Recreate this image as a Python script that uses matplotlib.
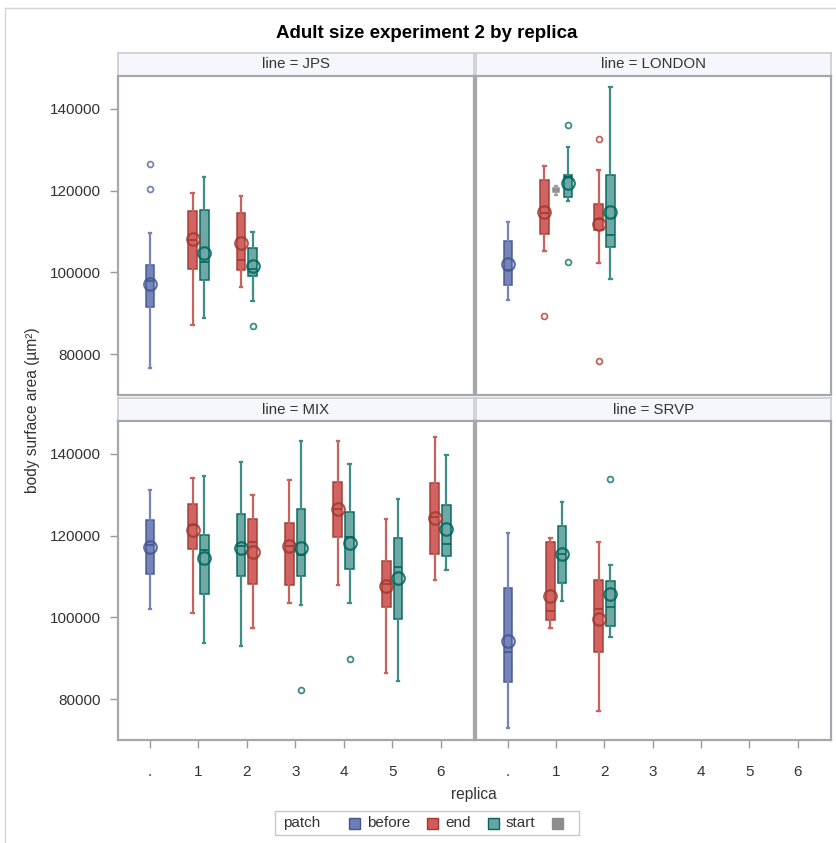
import matplotlib
matplotlib.use("Agg")
import matplotlib.pyplot as plt
from matplotlib.lines import Line2D
from matplotlib.patches import Rectangle
import numpy as np

plt.rcParams['font.family'] = ['Liberation Sans', 'DejaVu Sans']

# ---------------- data ----------------
panel_lines = ['JPS', 'LONDON', 'MIX', 'SRVP']
replica_labels = ['.', '1', '2', '3', '4', '5', '6']
patch_names = ['before', 'end', 'start', '']
legend_title = 'patch'

box_line = ['JPS', 'JPS', 'JPS', 'JPS', 'JPS',
            'LONDON', 'LONDON', 'LONDON', 'LONDON', 'LONDON', 'LONDON',
            'MIX', 'MIX', 'MIX', 'MIX', 'MIX', 'MIX', 'MIX', 'MIX', 'MIX', 'MIX', 'MIX', 'MIX', 'MIX',
            'SRVP', 'SRVP', 'SRVP', 'SRVP', 'SRVP']
box_replica = ['.', '1', '1', '2', '2',
               '.', '1', '1', '1', '2', '2',
               '.', '1', '1', '2', '2', '3', '3', '4', '4', '5', '5', '6', '6',
               '.', '1', '1', '2', '2']
box_patch = ['before', 'end', 'start', 'end', 'start',
             'before', 'end', '', 'start', 'end', 'start',
             'before', 'end', 'start', 'start', 'end', 'end', 'start', 'end', 'start', 'end', 'start', 'end', 'start',
             'before', 'end', 'start', 'end', 'start']
whislo = [76600, 87000, 88800, 96400, 92900,
          93300, 105100, 119000, 117400, 102300, 98400,
          102000, 101100, 93600, 92900, 97300, 103400, 102900, 107800, 103500, 86300, 84400, 109100, 111500,
          73000, 97400, 103900, 77200, 95100]
q1 = [91600, 100900, 98000, 100500, 99000,
      96800, 109400, 119600, 118400, 110400, 106100,
      110500, 116700, 105800, 110000, 108100, 107800, 110100, 119600, 111900, 102600, 99700, 115400, 115000,
      84200, 99300, 108300, 91400, 97900]
median = [97800, 108000, 102500, 103100, 100800,
          100600, 114500, 120100, 123300, 113100, 109100,
          117600, 122500, 116400, 117500, 118500, 117500, 115200, 126500, 119600, 108200, 112300, 124500, 118000,
          91500, 101500, 115400, 102000, 102400]
q3 = [101900, 114900, 115300, 114400, 106000,
      107600, 122500, 120700, 123900, 116800, 123700,
      123900, 127800, 120200, 125300, 124000, 123100, 126600, 133200, 125700, 113700, 119400, 132800, 127400,
      107200, 118400, 122300, 109100, 108800]
whishi = [109700, 119300, 123300, 118600, 109900,
          112200, 126000, 121000, 130700, 124900, 145300,
          131200, 134100, 134500, 138000, 130000, 133500, 143000, 143000, 137400, 124000, 128900, 144100, 139600,
          120700, 119400, 128200, 118500, 112900]
mean = [97100, 108200, 104600, 107100, 101500,
        102000, 114700, np.nan, 121900, 111900, 114700,
        117200, 121300, 114400, 117000, 116000, 117400, 117000, 126500, 118200, 107700, 109600, 124200, 121600,
        94100, 105200, 115400, 99600, 105800]
fliers = [[120300, 126400], [], [], [], [86900],
          [], [89200], [], [102400, 136000], [78400, 132600], [],
          [], [], [], [], [], [], [82300], [], [89900], [], [], [], [],
          [], [], [], [], [133900]]

y_ticks = [80000, 100000, 120000, 140000]

# ---------------- style ----------------
fill_col = {'before': '#6F7EB3', 'end': '#D05B5B', 'start': '#66A5A0', '': '#9C9C9C'}
line_col = {'before': '#445694', 'end': '#A23A2E', 'start': '#01665E', '': '#8A8A8A'}
whisk_col = {'before': '#7884B8', 'end': '#C8625C', 'start': '#3E8E86', '': '#A0A0A0'}
legend_fill = {'before': '#6F7EB3', 'end': '#D05B5B', 'start': '#66A5A0', '': '#8C8C8C'}
legend_edge = {'before': '#445694', 'end': '#A23A2E', 'start': '#01665E', '': '#8C8C8C'}

W, H = 836, 843
fig = plt.figure(figsize=(W / 100, H / 100), dpi=100)


def rect(x0, y0, x1, y1):
    return [x0 / W, 1 - y1 / H, (x1 - x0) / W, (y1 - y0) / H]


frame_col = '#A5A7AC'
tick_col = '#9A9A9A'
text_col = '#333333'

# outer border
fig.add_artist(Line2D([5 / W, 5 / W], [1 - 8 / H, 0], color='#D4D4D4', lw=1))
fig.add_artist(Line2D([5 / W, 1], [1 - 8 / H, 1 - 8 / H], color='#D4D4D4', lw=1))

fig.text(427 / W, 1 - 34 / H, 'Adult size experiment 2 by replica', ha='center', va='center',
         fontsize=13.5, fontweight='bold', color='#000000')

cols_x = [(118, 474), (476, 831)]
rows_y = [((53, 76), (76, 395)), ((398, 421), (421, 740))]

xlim = (-0.66, 6.69)
ylim = (70000, 148000)
spacing = 0.242
bw = 0.18

for pi, ln in enumerate(panel_lines):
    r, c = divmod(pi, 2)
    (sx0, sx1) = cols_x[c]
    (sy, py) = rows_y[r]
    # strip
    sax = fig.add_axes(rect(sx0, sy[0], sx1, sy[1]))
    sax.set_facecolor('#F5F7FD')
    sax.set_xticks([]); sax.set_yticks([])
    for s in sax.spines.values():
        s.set_color('#C9CBD0'); s.set_linewidth(1.2)
    sax.text(0.5, 0.5, f'line = {ln}', ha='center', va='center', fontsize=10.8, color=text_col,
             transform=sax.transAxes)
    ax = fig.add_axes(rect(sx0, py[0], sx1, py[1]))
    ax.set_xlim(*xlim)
    ax.set_ylim(*ylim)
    for s in ax.spines.values():
        s.set_color(frame_col); s.set_linewidth(1.6)
    ax.set_xticks(range(len(replica_labels)))
    ax.set_yticks(y_ticks)
    ax.tick_params(axis='both', colors=tick_col, length=6, width=1, labelcolor=text_col, labelsize=11, pad=6)
    if r == 1:
        ax.set_xticklabels(replica_labels)
        ax.tick_params(axis='x', pad=12)
    else:
        ax.tick_params(axis='x', length=0, labelbottom=False)
    if c == 0:
        ax.set_yticklabels([f'{v:d}' for v in y_ticks])
    else:
        ax.tick_params(axis='y', length=0, labelleft=False)

    idx = [i for i in range(len(box_line)) if box_line[i] == ln]
    for rep_i, rep in enumerate(replica_labels):
        grp = [i for i in idx if box_replica[i] == rep]
        n = len(grp)
        for k, i in enumerate(grp):
            pos = rep_i + (k - (n - 1) / 2) * spacing
            p = box_patch[i]
            st = dict(med=median[i], q1=q1[i], q3=q3[i], whislo=whislo[i], whishi=whishi[i],
                      fliers=fliers[i])
            ax.bxp([st], positions=[pos], widths=bw * (0.7 if p == '' else 1), patch_artist=True,
                   showfliers=True, capwidths=[0.05],
                   boxprops=dict(facecolor=fill_col[p], edgecolor=line_col[p], linewidth=1.1, alpha=0.95),
                   medianprops=dict(color=line_col[p], linewidth=1.2),
                   whiskerprops=dict(color=whisk_col[p], linewidth=1.6),
                   capprops=dict(color=whisk_col[p], linewidth=1.6),
                   flierprops=dict(marker='o', markersize=4.2, markerfacecolor='none',
                                   markeredgecolor=whisk_col[p], markeredgewidth=1.3),
                   manage_ticks=False)
            if not np.isnan(mean[i]):
                ax.plot([pos], [mean[i]], marker='o', markersize=9, markerfacecolor='none',
                        markeredgecolor=line_col[p], markeredgewidth=1.6, alpha=0.85, zorder=5)

fig.text(33 / W, 1 - 410 / H, 'body surface area (µm²)', rotation=90, ha='center', va='center',
         fontsize=11.2, color=text_col)
fig.text(474 / W, 1 - 795 / H, 'replica', ha='center', va='center', fontsize=11.2, color=text_col)

# legend (drawn manually, SAS style with inline title)
fig.add_artist(Rectangle((275 / W, 1 - 835 / H), (579 - 275) / W, (835 - 811) / H,
                         transform=fig.transFigure, facecolor='white', edgecolor='#C8C8C8', lw=1))
ly = 1 - 823 / H
fig.text(283 / W, ly, legend_title, ha='left', va='center', fontsize=11, color=text_col)
sq_x = [349, 427, 488, 552]
for p, sx in zip(patch_names, sq_x):
    fig.add_artist(Rectangle((sx / W, 1 - 828.5 / H), 11 / W, 11 / H, transform=fig.transFigure,
                             facecolor=legend_fill[p], edgecolor=legend_edge[p], lw=1))
    if p:
        fig.text((sx + 18) / W, ly, p, ha='left', va='center', fontsize=11, color=text_col)

fig.savefig('out.png', dpi=100)
